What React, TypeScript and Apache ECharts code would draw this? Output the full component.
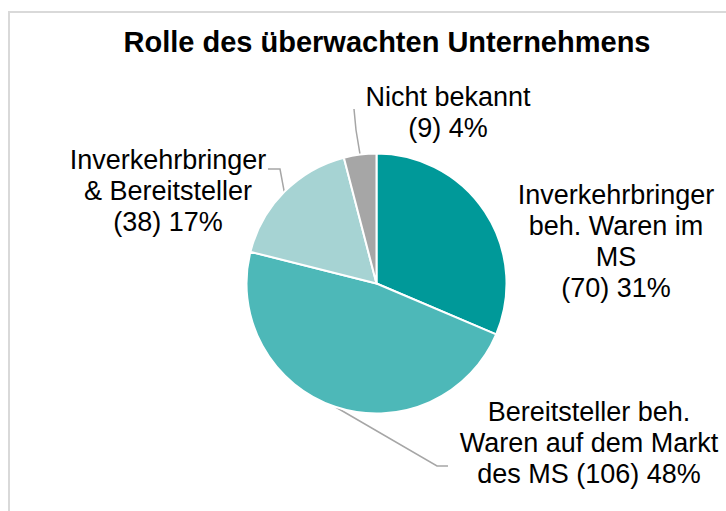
import React, { useEffect, useRef } from "react";
import * as echarts from "echarts";

const titleText = "Rolle des überwachten Unternehmens";
const categories = [
  "Inverkehrbringer beh. Waren im MS",
  "Bereitsteller beh. Waren auf dem Markt des MS",
  "Inverkehrbringer & Bereitsteller",
  "Nicht bekannt",
];
const values = [70, 106, 38, 9];
const labelTexts = [
  "Inverkehrbringer\nbeh. Waren im\nMS\n",
  "Bereitsteller beh.\nWaren auf dem Markt\ndes MS ",
  "Inverkehrbringer\n& Bereitsteller\n",
  "Nicht bekannt\n",
];
const colors = ["#009999", "#4DB8B8", "#A6D3D3", "#A6A6A6"];
const showLine = [false, true, true, true];

// label placement (layout only)
const labelPos = [
  [616, 241],
  [589, 443],
  [168, 191],
  [448, 112],
];
const linePaths: number[][][] = [
  [],
  [[437, 466], [448, 466]],
  [[280, 169], [268, 169]],
  [[356, 130], [354, 109]],
];

export default function App() {
  const ref = useRef<HTMLDivElement>(null);
  useEffect(() => {
    if (!ref.current) return;
    const chart = echarts.init(ref.current, null, { renderer: "svg" });
    const font = "Liberation Sans, Arial, sans-serif";
    chart.setOption({
      animation: false,
      backgroundColor: "#ffffff",
      graphic: [
        {
          type: "rect",
          shape: { x: 9, y: 12, width: 800, height: 600 },
          style: { fill: "none", stroke: "#D9D9D9", lineWidth: 2 },
          silent: true,
        },
      ],
      title: {
        text: titleText,
        left: 382,
        top: 22,
        textAlign: "center",
        textStyle: {
          fontFamily: font,
          fontSize: 29,
          fontWeight: "bold",
          color: "#000000",
        },
      },
      series: [
        {
          type: "pie",
          center: [376.5, 283.5],
          radius: 130,
          startAngle: 90,
          clockwise: true,
          itemStyle: { borderColor: "#ffffff", borderWidth: 2 },
          label: {
            show: true,
            fontFamily: font,
            fontSize: 27,
            lineHeight: 31,
            width: 320,
            overflow: "none",
            color: "#000000",
            align: "center",
            formatter: (p: any) =>
              labelTexts[p.dataIndex] + "(" + p.value + ") " + Math.round(p.percent) + "%",
          },
          labelLine: {
            show: true,
            lineStyle: { color: "#A6A6A6", width: 1.5 },
          },
          labelLayout: (p: any) => {
            const i = p.dataIndex;
            const res: any = {
              x: labelPos[i][0],
              y: labelPos[i][1],
              align: "center",
              verticalAlign: "middle",
            };
            if (showLine[i] && p.labelLinePoints) {
              res.labelLinePoints = [p.labelLinePoints[0], ...linePaths[i]];
            }
            return res;
          },
          data: values.map((v, i) => ({
            name: categories[i],
            value: v,
            itemStyle: { color: colors[i] },
            labelLine: { show: showLine[i] },
          })),
        },
      ],
    });
    return () => chart.dispose();
  }, []);
  return (
    <div
      ref={ref}
      style={{ position: "absolute", left: 0, top: 0, width: 726, height: 511 }}
    />
  );
}
